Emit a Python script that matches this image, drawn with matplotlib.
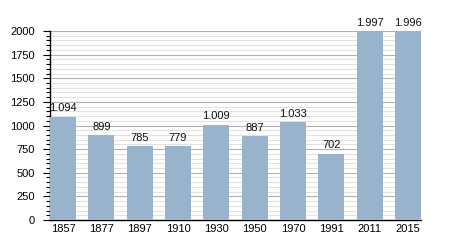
import matplotlib.pyplot as plt
from matplotlib.ticker import MultipleLocator

plt.rcParams["font.family"] = ["Liberation Sans", "DejaVu Sans"]

years = ["1857", "1877", "1897", "1910", "1930", "1950", "1970", "1991", "2011", "2015"]
population = [1094, 899, 785, 779, 1009, 887, 1033, 702, 1997, 1996]
labels = ["1.094", "899", "785", "779", "1.009", "887", "1.033", "702", "1.997", "1.996"]

fig = plt.figure(figsize=(4.5, 2.5), dpi=100)
ax = fig.add_axes([0.111, 0.12, 0.825, 0.756])

w = 0.68
x = range(len(years))
ax.bar(x, population, width=w, color="#99b3cd", zorder=3)
for i, v in enumerate(population):
    ax.text(i, v + 35, labels[i], ha="center", va="bottom", fontsize=8, color="#111111", zorder=4)

ax.set_xlim(-w / 2, len(years) - 1 + w / 2)
ax.set_ylim(0, 2000)
ax.set_xticks(list(x))
ax.set_xticklabels(years, fontsize=8)
ax.tick_params(axis="x", length=0, pad=3)

ax.yaxis.set_major_locator(MultipleLocator(250))
ax.yaxis.set_minor_locator(MultipleLocator(50))
ax.tick_params(axis="y", which="major", length=5, width=0.8, labelsize=8, pad=6)
ax.tick_params(axis="y", which="minor", length=3, width=0.8)
ax.grid(axis="y", which="major", color="#b0b0b0", linewidth=0.8, zorder=0)
ax.grid(axis="y", which="minor", color="#e2e2e2", linewidth=0.8, zorder=0)

ax.spines["top"].set_visible(False)
ax.spines["right"].set_visible(False)
ax.spines["left"].set_linewidth(1)
ax.spines["bottom"].set_linewidth(1)

fig.savefig("out.png", dpi=100)
